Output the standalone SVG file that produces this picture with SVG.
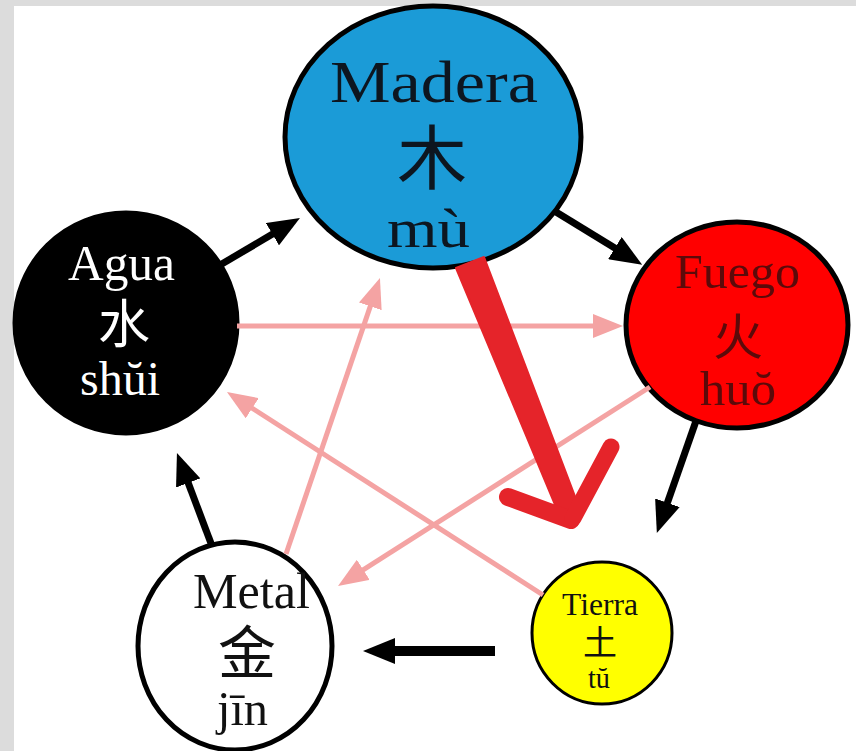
<svg xmlns="http://www.w3.org/2000/svg" width="856" height="751" viewBox="0 0 856 751">
<style>
.lat{font-family:"Liberation Serif","Times New Roman",serif;}
.cjk{font-family:"Noto Sans CJK SC","Noto Sans CJK JP",sans-serif;text-anchor:middle;}
.node{stroke:#000;stroke-width:5;}
.blk{stroke:#000;stroke-width:7;fill:none;marker-end:url(#hb);}
.pnk{stroke:#f4a3a3;stroke-width:5;fill:none;marker-end:url(#hp);}
.red{fill:#e5242a;stroke:#e5242a;}
</style>
<defs>
<marker id="hb" markerUnits="userSpaceOnUse" viewBox="0 0 32 26" refX="10" refY="13" markerWidth="32" markerHeight="26" orient="auto">
<path d="M0,0 L32,13 L0,26 z" fill="#000"/>
</marker>
<marker id="hp" markerUnits="userSpaceOnUse" viewBox="0 0 30 24" refX="10" refY="12" markerWidth="30" markerHeight="24" orient="auto">
<path d="M0,0 L30,12 L0,24 z" fill="#f4a3a3"/>
</marker>
</defs>
<rect x="0" y="0" width="856" height="751" fill="#fff"/>
<rect x="0" y="0" width="856" height="6" fill="#dcdcdc"/>
<rect x="0" y="0" width="14" height="751" fill="#dcdcdc"/>

<g id="madera">
<ellipse class="node" cx="433" cy="137" rx="148" ry="131" fill="#1b9bd7"/>
<text class="lat" x="330" y="102" font-size="60" textLength="208" lengthAdjust="spacingAndGlyphs" fill="#0d1620">Madera</text>
<text class="cjk" x="432" y="184" font-size="70" fill="#0d1620">木</text>
<text class="lat" x="387" y="247" font-size="54" textLength="83" lengthAdjust="spacingAndGlyphs" fill="#0d1620">mù</text>
</g>
<g id="agua">
<ellipse class="node" cx="126" cy="323" rx="111" ry="110" fill="#000"/>
<text class="lat" x="68" y="280" font-size="50" textLength="107" lengthAdjust="spacingAndGlyphs" fill="#fff">Agua</text>
<text class="cjk" x="124" y="343" font-size="52" fill="#fff">水</text>
<text class="lat" x="80" y="395" font-size="48" textLength="80" lengthAdjust="spacingAndGlyphs" fill="#fff">shŭi</text>
</g>
<g id="fuego">
<ellipse class="node" cx="737" cy="325" rx="111" ry="103" fill="#ff0000"/>
<text class="lat" x="675" y="288" font-size="48" textLength="125" lengthAdjust="spacingAndGlyphs" fill="#5c0a0a">Fuego</text>
<text class="cjk" x="738" y="355" font-size="50" fill="#5c0a0a">火</text>
<text class="lat" x="700" y="405" font-size="48" textLength="76" lengthAdjust="spacingAndGlyphs" fill="#5c0a0a">huŏ</text>
</g>
<g id="metal">
<ellipse class="node" cx="235" cy="646" rx="97" ry="104" fill="#fff"/>
<text class="lat" x="193" y="608" font-size="50" textLength="117" lengthAdjust="spacingAndGlyphs" fill="#111">Metal</text>
<text class="cjk" x="247" y="674" font-size="58" fill="#111">金</text>
<text class="lat" x="217" y="725" font-size="48" textLength="51" lengthAdjust="spacingAndGlyphs" fill="#111">jīn</text>
</g>
<g id="tierra">
<ellipse cx="602" cy="633" rx="70" ry="71" fill="#ffff00" stroke="#000" stroke-width="3"/>
<text class="lat" x="562" y="615" font-size="31" textLength="76" lengthAdjust="spacingAndGlyphs" fill="#111">Tierra</text>
<text class="cjk" x="600" y="655" font-size="34" fill="#111">土</text>
<text class="lat" x="588" y="688" font-size="30" textLength="22" lengthAdjust="spacingAndGlyphs" fill="#111">tŭ</text>
</g>

<g id="connectors">
<line class="pnk" x1="237" y1="326" x2="603" y2="326"/>
<line class="pnk" x1="650" y1="387" x2="354.9" y2="575.2"/>
<line class="pnk" x1="286" y1="554" x2="373.5" y2="296.9"/>
<line class="pnk" x1="543" y1="595" x2="243.8" y2="402.8"/>

<line class="blk" x1="215" y1="268" x2="281" y2="229.1"/>
<line class="blk" x1="556" y1="212" x2="623.4" y2="253.3"/>
<line class="blk" x1="696" y1="421" x2="664.1" y2="512.2"/>
<line class="blk" x1="495" y1="651" x2="385" y2="651" style="stroke-width:10"/>
<line class="blk" x1="212" y1="546" x2="184.7" y2="473.6"/>

<g id="big-red-arrow">
<polygon class="red" stroke-width="2" stroke-linejoin="round" points="456,268 484,257 576,499 576,522 556,507"/>
<line class="red" x1="508" y1="497" x2="571" y2="520" stroke-width="18" stroke-linecap="round"/>
<line class="red" x1="611" y1="447" x2="573" y2="518" stroke-width="17" stroke-linecap="round"/>
</g>
</g>
</svg>
